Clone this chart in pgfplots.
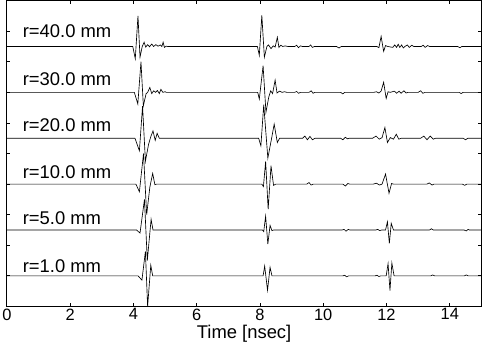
\documentclass[border=0pt]{standalone}
\usepackage{fontspec}
\setmainfont{Liberation Sans}
\usepackage{pgfplots}
\usepackage{pgfplotstable}
\pgfplotsset{compat=1.18}

\pgfplotstableread{
t a
0 0
3.98 0
4.06 -0.40
4.145 1.00
4.21 -0.35
4.28 0.00
4.34 0.14
4.39 -0.02
4.45 0.06
4.51 -0.01
4.58 0.08
4.64 0.00
4.71 0.06
4.78 0.01
4.85 0.05
4.90 0.00
4.94 0.14
4.98 -0.03
5.04 0.01
5.08 0
7.92 0
7.98 -0.29
8.06 1.02
8.14 -0.35
8.22 0.00
8.27 0.05
8.35 -0.07
8.42 0.02
8.48 -0.02
8.55 0.30
8.60 -0.03
8.66 0.04
8.72 0.00
8.80 0.02
8.88 0
9.10 0
9.16 0.04
9.22 -0.04
9.28 0.02
9.34 0
9.55 0
9.60 0.05
9.66 -0.03
9.72 0
10.42 0
10.50 -0.05
10.57 0
11.70 0
11.76 -0.04
11.83 0.33
11.91 -0.16
11.97 0.03
12.04 0
12.20 -0.03
12.26 0.05
12.32 -0.03
12.37 0.07
12.42 -0.03
12.48 0.05
12.53 -0.05
12.58 0.00
12.66 0.05
12.72 -0.03
12.80 0.04
12.86 0
13.10 0
13.16 0.04
13.22 -0.03
13.30 0.03
13.36 0
14.25 0
14.32 -0.04
14.38 0
15 0
}\rforty

\pgfplotstableread{
t a
0 0
4.03 0
4.14 -0.38
4.24 1.00
4.315 -0.44
4.40 -0.05
4.45 0.00
4.52 0.16
4.58 -0.04
4.64 0.05
4.70 0.00
4.76 0.06
4.82 -0.04
4.87 0.10
4.93 0.00
5.00 0.02
5.04 0
7.93 0
7.98 -0.22
8.10 0.87
8.19 -0.65
8.28 -0.15
8.34 0.05
8.40 -0.04
8.48 0.40
8.54 -0.02
8.62 0.04
8.70 0.00
8.78 0.02
8.85 0
9.10 0
9.16 0.03
9.22 -0.03
9.28 0
9.55 0
9.62 0.05
9.68 -0.03
9.74 0
10.55 0
10.62 -0.05
10.68 0
11.60 0
11.68 0.02
11.76 -0.02
11.83 0.04
11.91 0.33
11.99 -0.20
12.05 0.02
12.12 0
12.25 0.04
12.32 -0.03
12.40 0.04
12.46 -0.03
12.55 0.05
12.62 -0.02
12.68 0
13.00 0
13.08 0.05
13.15 -0.03
13.22 0
14.30 0
14.36 -0.04
14.42 0
15 0
}\rthirty

\pgfplotstableread{
t a
0 0
4.05 0
4.19 -0.41
4.29 1.05
4.38 -0.75
4.48 -0.20
4.55 0.05
4.62 0.24
4.69 -0.07
4.75 0.16
4.82 0.00
4.88 0
7.96 0
8.03 -0.25
8.12 1.10
8.25 -0.65
8.36 -0.05
8.45 0.46
8.55 -0.14
8.62 0.00
8.70 0
9.35 0
9.42 0.07
9.50 -0.05
9.58 0.06
9.66 -0.05
9.74 0
10.55 0
10.62 -0.05
10.70 0.03
10.77 -0.02
10.82 0
11.56 0
11.67 0.07
11.77 -0.03
11.86 0.02
11.95 0.35
12.03 -0.14
12.12 0.02
12.22 -0.03
12.31 0.13
12.39 -0.03
12.47 0
13.08 0
13.18 0.07
13.28 -0.05
13.38 0.07
13.48 -0.03
13.55 0
14.42 0
14.50 -0.05
14.57 0
15 0
}\rtwenty

\pgfplotstableread{
t a
0 0
4.08 0
4.19 -0.25
4.32 1.00
4.42 -1.00
4.52 -0.10
4.61 0.35
4.68 -0.02
4.73 0
8.06 0
8.11 -0.08
8.18 0.74
8.26 -0.82
8.35 0.60
8.43 -0.04
8.50 0
9.48 0
9.55 0.05
9.62 -0.03
9.68 0
10.62 0
10.70 -0.06
10.78 0.02
10.84 0
11.58 0
11.68 0.03
11.78 -0.03
11.86 0
11.97 0.33
12.08 -0.30
12.16 0.02
12.22 0
13.28 0
13.35 0.04
13.44 -0.03
13.50 0
14.40 0
14.47 -0.04
14.54 0
15 0
}\rten

\pgfplotstableread{
t a
0 0
4.10 0
4.21 -0.10
4.35 1.00
4.44 -1.00
4.56 0.35
4.62 0
8.08 0
8.12 -0.05
8.18 0.45
8.25 -0.46
8.32 0.15
8.38 -0.02
8.43 0
10.60 0
10.66 0.02
10.72 -0.04
10.79 0.02
10.84 0
11.66 0
11.72 0.02
11.79 -0.02
11.85 0
11.97 0
12.03 0.27
12.09 -0.44
12.15 0.22
12.22 0
13.36 0
13.42 0.04
13.48 0
14.45 0
14.52 -0.03
14.58 0.02
14.62 0
15 0
}\rfive

\pgfplotstableread{
t a
0 0
4.15 0
4.27 -0.14
4.38 0.80
4.45 -1.00
4.55 0.35
4.61 0
8.10 0
8.15 0.32
8.24 -0.47
8.32 0.28
8.38 0
10.62 0
10.68 0.02
10.74 -0.03
10.80 0
11.64 0
11.70 0.02
11.76 -0.02
11.82 0
11.99 0
12.05 0.40
12.11 -0.48
12.17 0.42
12.24 0
13.40 0
13.46 0.03
13.52 0
14.46 0
14.52 0.03
14.58 0
15 0
}\rone

\begin{document}
\begin{tikzpicture}
\begin{axis}[
  width=475.4bp, height=306.4bp, scale only axis,
  xmin=0, xmax=15, ymin=0, ymax=10,
  xtick={0,2,...,14}, ytick={1,...,9}, yticklabels={},
  tick align=inside, major tick length=3.5bp,
  axis line style={line width=1.2bp, black},
  tick style={line width=0.8bp, black},
  /pgf/number format/assume math mode=true,
  xticklabel style={inner sep=0pt, yshift=-2bp, font=\fontsize{16.5}{19}\selectfont},
  xlabel={Time [nsec]},
  xlabel style={at={(axis description cs:0.5,0)}, anchor=north, inner sep=0pt, yshift=-18.5bp, font=\fontsize{18.5}{22}\selectfont},
  clip=true,
]
\addplot[black, line width=0.65bp, mark=none] table[x=t, y expr=\thisrow{a}+8.5] {\rforty};
\addplot[black, line width=0.65bp, mark=none] table[x=t, y expr=\thisrow{a}+7] {\rthirty};
\addplot[black, line width=0.65bp, mark=none] table[x=t, y expr=\thisrow{a}+5.5] {\rtwenty};
\addplot[black, line width=0.65bp, mark=none] table[x=t, y expr=\thisrow{a}+4] {\rten};
\addplot[black, line width=0.65bp, mark=none] table[x=t, y expr=\thisrow{a}+2.5] {\rfive};
\addplot[black, line width=0.65bp, mark=none] table[x=t, y expr=\thisrow{a}+1] {\rone};
\node[anchor=base west, inner sep=0pt, font=\fontsize{18.5}{22}\selectfont] at (axis cs:0.5,8.79) {r=40.0 mm};
\node[anchor=base west, inner sep=0pt, font=\fontsize{18.5}{22}\selectfont] at (axis cs:0.5,7.22) {r=30.0 mm};
\node[anchor=base west, inner sep=0pt, font=\fontsize{18.5}{22}\selectfont] at (axis cs:0.5,5.72) {r=20.0 mm};
\node[anchor=base west, inner sep=0pt, font=\fontsize{18.5}{22}\selectfont] at (axis cs:0.5,4.20) {r=10.0 mm};
\node[anchor=base west, inner sep=0pt, font=\fontsize{18.5}{22}\selectfont] at (axis cs:0.5,2.67) {r=5.0 mm};
\node[anchor=base west, inner sep=0pt, font=\fontsize{18.5}{22}\selectfont] at (axis cs:0.5,1.10) {r=1.0 mm};
\end{axis}
\end{tikzpicture}
\end{document}
